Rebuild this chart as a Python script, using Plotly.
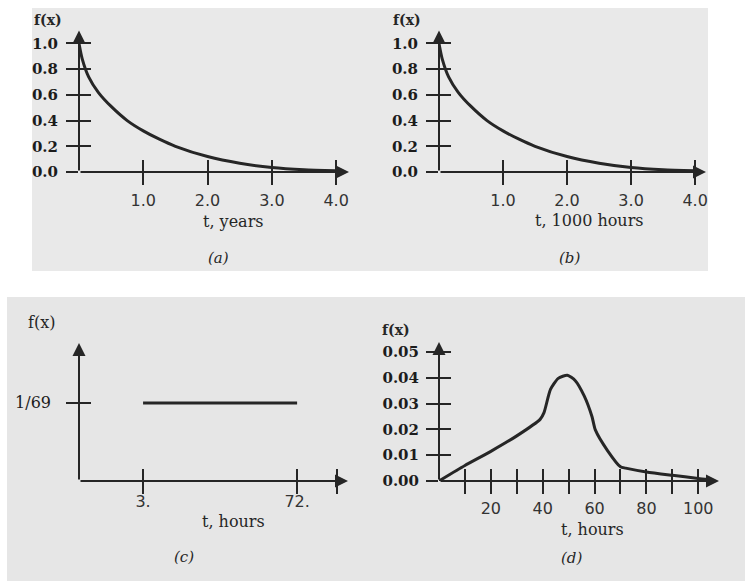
import plotly.graph_objects as go

W, H = 745, 581

# ---------------- data ----------------
# (a) exponential density, t in years
a_t = [0, 0.05, 0.15, 0.3, 0.5, 0.75, 1.0, 1.25, 1.5, 2.0, 2.5, 3.0, 3.5, 4.0]
a_f = [1.0, 0.88, 0.74, 0.62, 0.51, 0.40, 0.32, 0.255, 0.20, 0.12, 0.068, 0.035, 0.018, 0.01]
a_xticks = [1.0, 2.0, 3.0, 4.0]
a_xlabels = ["1.0", "2.0", "3.0", "4.0"]

# (b) exponential density, t in 1000 hours
b_t = [0, 0.05, 0.15, 0.3, 0.5, 0.75, 1.0, 1.25, 1.5, 2.0, 2.5, 3.0, 3.5, 4.0]
b_f = [1.0, 0.88, 0.74, 0.62, 0.51, 0.40, 0.32, 0.255, 0.20, 0.12, 0.068, 0.035, 0.018, 0.01]
b_xticks = [1.0, 2.0, 3.0, 4.0]
b_xlabels = ["1.0", "2.0", "3.0", "4.0"]

ab_yticks = [0.0, 0.2, 0.4, 0.6, 0.8, 1.0]
ab_ylabels = ["0.0", "0.2", "0.4", "0.6", "0.8", "1.0"]

# (c) uniform density between 3 and 72 hours
c_t = [3, 72]
c_f = [1 / 69, 1 / 69]
c_xticks = [3, 72, 90]
c_xlabels = ["3.", "72.", ""]
c_yticks = [1 / 69]
c_ylabels = ["1/69"]

# (d) empirical repair-time density, hours
d_t = [0, 10, 20, 30, 39, 40.5, 43, 46, 49.5, 52.5, 56, 59, 60.3, 65, 70, 72, 80, 90, 100, 104]
d_f = [0, 0.006, 0.0115, 0.0175, 0.0239, 0.0265, 0.0355, 0.0398, 0.041, 0.039, 0.033, 0.025,
       0.0198, 0.0118, 0.0055, 0.005, 0.0035, 0.0022, 0.001, 0.0006]
d_xticks = [10, 20, 30, 40, 50, 60, 70, 80, 90, 100]
d_xlabels = ["", "20", "", "40", "", "60", "", "80", "", "100"]
d_yticks = [0.0, 0.01, 0.02, 0.03, 0.04, 0.05]
d_ylabels = ["0.00", "0.01", "0.02", "0.03", "0.04", "0.05"]

# ---------------- style ----------------
INK = "#262626"
SERIF = "DejaVu Serif"
SANS = "DejaVu Sans"
XTICKFONT = dict(family=SANS, size=16, color="#333333")
YTICKFONT = dict(family=SERIF, size=15, color="#1c1c1c", weight="bold")
YTICKFONT_C = dict(family=SERIF, size=16, color="#1c1c1c")


def px_x(p):
    return p / W


def px_y(p):
    return 1 - p / H


# panel geometry in pixels: (x0, x1, y_bottom, y_top), axis ranges
panels = [
    dict(n=1, xd=(79, 349), yd=(172, 30.6), xr=[0, 4.2], yr=[0, 1.1], xs=17, ys=20, yf=YTICKFONT,
         xt=a_xticks, xl=a_xlabels, yt=ab_yticks, yl=ab_ylabels, t=a_t, f=a_f, shape="spline"),
    dict(n=2, xd=(439, 706), yd=(172, 30.6), xr=[0, 4.17], yr=[0, 1.1], xs=17, ys=20, yf=YTICKFONT,
         xt=b_xticks, xl=b_xlabels, yt=ab_yticks, yl=ab_ylabels, t=b_t, f=b_f, shape="spline"),
    dict(n=3, xd=(79, 348), yd=(481, 343), xr=[-25.7, 94.8], yr=[0, 0.0256], xs=9, ys=27, yf=YTICKFONT_C,
         xt=c_xticks, xl=c_xlabels, yt=c_yticks, yl=c_ylabels, t=c_t, f=c_f, shape="linear"),
    dict(n=4, xd=(439, 719), yd=(481, 342), xr=[0, 108], yr=[0, 0.0539], xs=16, ys=19, yf=YTICKFONT,
         xt=d_xticks, xl=d_xlabels, yt=d_yticks, yl=d_ylabels, t=d_t, f=d_f, shape="spline"),
]

fig = go.Figure()
layout = dict(
    width=W, height=H, autosize=False, margin=dict(l=0, r=0, t=0, b=0, pad=0, autoexpand=False),
    paper_bgcolor="white", plot_bgcolor="rgba(0,0,0,0)",
    showlegend=False,
)
annotations = []

for p in panels:
    n = p["n"]
    xs = "" if n == 1 else str(n)
    xname, yname = "x" + xs, "y" + xs
    ox, oy = str(n + 4), str(n + 8)
    xd = [px_x(p["xd"][0]), px_x(p["xd"][1])]
    yd = [px_y(p["yd"][0]), px_y(p["yd"][1])]
    common = dict(showgrid=False, zeroline=False, showline=False, fixedrange=True, automargin=False)
    # main axes: inner half of the ticks + labels
    layout["xaxis" + xs] = dict(domain=xd, range=p["xr"], anchor=yname,
                                tickmode="array", tickvals=p["xt"], ticktext=p["xl"],
                                ticks="inside", ticklen=12, tickwidth=2, tickcolor=INK,
                                tickfont=XTICKFONT, ticklabelstandoff=p["xs"], **common)
    layout["yaxis" + xs] = dict(domain=yd, range=p["yr"], anchor=xname,
                                tickmode="array", tickvals=p["yt"], ticktext=p["yl"],
                                ticks="inside", ticklen=12, tickwidth=2, tickcolor=INK,
                                tickfont=p["yf"], ticklabelstandoff=p["ys"], **common)
    # overlay axes: outer half of the ticks (ticks cross the axis)
    layout["xaxis" + ox] = dict(domain=xd, range=p["xr"], anchor="y" + oy, overlaying=xname,
                                tickmode="array", tickvals=p["xt"], showticklabels=False,
                                ticks="outside", ticklen=12, tickwidth=2, tickcolor=INK, **common)
    layout["yaxis" + oy] = dict(domain=yd, range=p["yr"], anchor="x" + ox, overlaying=yname,
                                tickmode="array", tickvals=p["yt"], showticklabels=False,
                                ticks="outside", ticklen=12, tickwidth=2, tickcolor=INK, **common)
    fig.add_trace(go.Scatter(x=[None], y=[None], xaxis="x" + ox, yaxis="y" + oy,
                             mode="lines", hoverinfo="skip"))

    fig.add_trace(go.Scatter(x=p["t"], y=p["f"], xaxis=xname, yaxis=yname, mode="lines",
                             line=dict(color=INK, width=3, shape=p["shape"], smoothing=0.6),
                             hoverinfo="skip"))
    # axis lines with arrowheads
    for (x, y, ax, ay) in [(1, 0, 0, 0), (0, 1, 0, 0)]:
        annotations.append(dict(xref=xname + " domain", yref=yname + " domain",
                                axref=xname + " domain", ayref=yname + " domain",
                                x=x, y=y, ax=ax, ay=ay, text="", showarrow=True,
                                arrowhead=2, arrowsize=1.3, arrowwidth=2, arrowcolor=INK,
                                standoff=0, startstandoff=0))

# text labels: (text, x px, y px, style, size)
texts = [
    ("f(x)", 48, 20, "b", 14), ("f(x)", 407, 20, "b", 14), ("f(x)", 41, 322, "n", 16),
    ("f(x)", 396, 330, "b", 14),
    ("t, years", 233, 221, "n", 16), ("t, 1000 hours", 589, 220, "n", 16),
    ("t, hours", 233, 521, "n", 16), ("t, hours", 592, 529, "n", 16),
    ("(a)", 218, 258, "i", 15), ("(b)", 569, 258, "i", 15), ("(c)", 184, 557, "i", 15),
    ("(d)", 571, 558, "i", 15),
]
for s, x, y, st, sz in texts:
    txt = s
    if st == "b":
        txt = f"<b>{s}</b>"
    elif st == "i":
        txt = f"<i>{s}</i>"
    annotations.append(dict(xref="paper", yref="paper", x=px_x(x), y=px_y(y), text=txt,
                            showarrow=False, xanchor="center", yanchor="middle",
                            font=dict(family=SERIF, size=sz, color=INK)))

layout["annotations"] = annotations
layout["shapes"] = [
    dict(type="rect", xref="paper", yref="paper", x0=px_x(32), x1=px_x(708), y0=px_y(271), y1=px_y(8),
         fillcolor="#e9e9e9", line=dict(width=0), layer="below"),
    dict(type="rect", xref="paper", yref="paper", x0=px_x(7), x1=1, y0=0, y1=px_y(297),
         fillcolor="#e6e6e6", line=dict(width=0), layer="below"),
]
fig.update_layout(**layout)

POST = (
    "var d=document.getElementById('{plot_id}');"
    "d.style.position='fixed';d.style.left='0px';d.style.top='0px';"
    "document.body.style.margin='0';"
    "document.body.style.overflow='hidden';"
    "document.documentElement.style.overflow='hidden';"
)
fig.write_html("out.html", config=dict(displayModeBar=False, responsive=False), post_script=POST)
